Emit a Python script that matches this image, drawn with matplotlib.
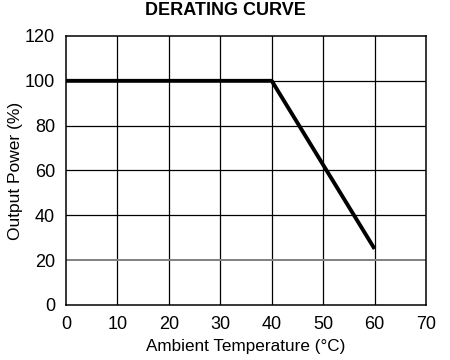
import matplotlib
matplotlib.use('Agg')
import matplotlib.pyplot as plt

plt.rcParams['font.family'] = ['Liberation Sans', 'DejaVu Sans']

temp = [0, 40, 60]  # ambient temperature (C)
power = [100, 100, 25]  # output power (%)
xticks = [0, 10, 20, 30, 40, 50, 60, 70]
yticks = [0, 20, 40, 60, 80, 100, 120]

fig = plt.figure(figsize=(4.5, 3.6), dpi=100)
ax = fig.add_axes([0.1467, 0.153, 0.8, 0.747])

for v in xticks[1:-1]:
    ax.axvline(v, color='black', lw=0.9, zorder=1)
for v in yticks[1:-1]:
    ax.axhline(v, color='#808080' if v == 20 else 'black', lw=0.9 if v != 20 else 1.4, zorder=1)

ax.plot(temp, power, color='black', lw=2.8, solid_capstyle='butt', zorder=3)

ax.set_xlim(0, 70)
ax.set_ylim(0, 120)
ax.set_xticks(xticks)
ax.set_yticks(yticks)
ax.tick_params(length=0, labelsize=13, pad=8)
for s in ax.spines.values():
    s.set_linewidth(1.1)

ax.set_xlabel('Ambient Temperature (°C)', fontsize=12.3, labelpad=4)
ax.set_ylabel('Output Power (%)', fontsize=12.5, labelpad=1)
fig.text(0.5, 0.972, 'DERATING CURVE', ha='center', va='center', fontsize=13, fontweight='bold')

fig.savefig('out.png', dpi=100)
